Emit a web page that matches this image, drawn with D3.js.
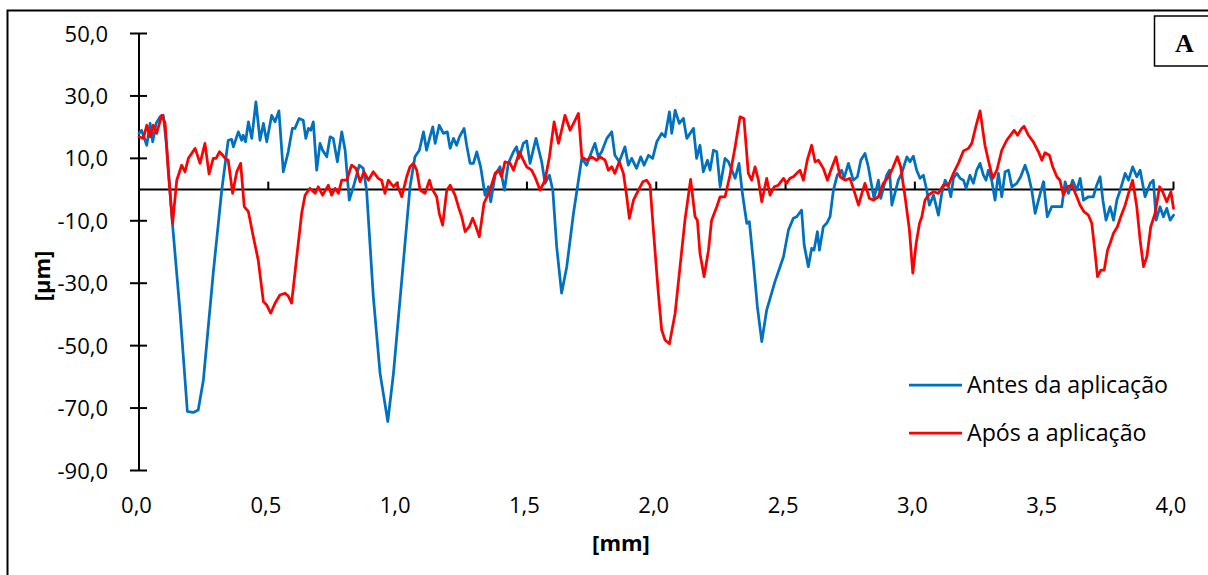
<!DOCTYPE html>
<html><head><meta charset="utf-8">
<script src="https://cdn.jsdelivr.net/npm/d3@7"></script>
<style>
html,body{margin:0;padding:0;background:#fff;}
svg{display:block;}
</style></head>
<body><svg id="chart" width="1208" height="575"></svg>
<script>
// ---- data (x in mm, y in µm) ----
const antesX = [0.000,0.010,0.030,0.043,0.053,0.066,0.081,0.094,0.107,0.126,0.159,0.187,0.210,0.229,0.249,0.287,0.320,0.345,0.358,0.365,0.384,0.397,0.403,0.412,0.423,0.436,0.452,0.468,0.481,0.494,0.513,0.526,0.541,0.558,0.577,0.593,0.603,0.619,0.635,0.645,0.655,0.664,0.674,0.687,0.700,0.710,0.726,0.739,0.751,0.767,0.784,0.797,0.813,0.829,0.852,
0.867,0.880,0.906,0.932,0.962,0.984,1.016,1.048,1.067,1.084,1.100,1.112,1.125,1.136,1.145,1.161,1.177,1.192,1.203,1.216,1.228,1.239,1.257,1.267,1.280,1.293,1.306,1.321,1.338,1.351,1.360,1.377,1.396,1.413,1.428,1.448,1.460,1.469,1.486,1.499,1.512,1.535,1.557,1.570,1.587,1.600,1.615,1.634,1.654,1.680,1.712,1.731,1.750,1.763,1.776,1.789,1.809,1.828,1.840,1.857,
1.879,1.892,1.905,1.924,1.940,1.953,1.970,1.986,2.002,2.021,2.034,2.051,2.060,2.073,2.089,2.105,2.118,2.131,2.144,2.156,2.169,2.182,2.198,2.208,2.221,2.234,2.247,2.266,2.279,2.305,2.320,2.333,2.350,2.360,2.376,2.391,2.408,2.427,2.459,2.492,2.511,2.530,2.543,2.562,2.572,2.588,2.601,2.610,2.623,2.631,2.646,2.659,2.672,2.685,2.700,2.717,2.726,2.743,2.762,2.778,2.791,2.807,2.820,2.829,2.842,2.859,2.868,2.891,2.902,2.911,2.936,
2.949,2.969,2.981,2.994,3.007,3.020,3.033,3.046,3.056,3.072,3.091,3.104,3.117,3.130,3.139,3.149,3.162,3.175,3.188,3.198,3.213,3.226,3.239,3.252,3.265,3.275,3.284,3.297,3.310,3.323,3.336,3.349,3.362,3.375,3.394,3.409,3.426,3.439,3.452,3.465,3.478,3.497,3.512,3.529,3.549,3.568,3.581,3.594,3.610,3.626,3.639,3.652,3.671,3.690,3.703,3.716,3.727,3.739,3.755,3.768,3.781,3.794,3.813,3.826,3.842,3.858,3.871,3.890,3.910,3.922,3.933,3.948,3.961,3.974,3.987,4.000];
const antesY = [18.0,19.0,14.2,21.2,15.3,21.2,23.3,23.8,13.7,-7.6,-39.6,-71.1,-71.4,-70.6,-61.0,-26.8,-0.2,15.8,16.1,13.7,18.5,15.8,17.4,15.3,21.7,16.4,28.1,15.8,21.2,15.3,23.8,21.7,25.2,5.7,12.1,19.6,19.6,22.8,22.2,16.4,19.6,19.0,21.7,6.2,14.8,12.6,10.5,16.9,16.4,8.9,18.5,12.6,-3.4,0.9,7.8,
6.8,-0.2,-34.3,-58.8,-74.3,-58.8,-29.0,0.9,10.5,12.6,18.5,12.6,16.9,20.1,14.8,20.6,18.0,18.5,13.2,16.4,14.2,16.9,19.6,14.2,8.4,8.4,12.1,7.3,-1.8,0.9,-3.9,4.6,7.3,-0.2,8.4,12.1,13.7,10.0,14.8,15.6,8.4,16.4,8.9,2.0,4.6,-0.2,-18.3,-33.2,-24.7,-7.6,10.0,7.8,12.1,14.8,10.5,12.1,16.4,18.5,11.0,8.9,
13.7,7.8,10.0,6.8,10.5,7.8,11.0,10.0,15.3,18.0,16.9,24.9,18.0,25.4,21.2,22.8,16.4,18.0,19.6,10.0,14.2,5.7,9.4,6.2,12.6,12.1,0.9,10.0,8.9,3.6,8.4,-1.2,-10.8,-10.3,-23.6,-37.5,-48.7,-38.6,-29.5,-21.5,-13.0,-9.2,-8.7,-6.6,-17.8,-24.7,-18.8,-19.4,-13.5,-19.4,-11.9,-10.8,-8.7,-0.2,4.6,6.2,3.6,8.4,3.0,4.1,9.4,11.6,7.3,3.0,-2.8,3.0,-2.8,4.6,6.2,-5.0,3.0,
5.2,10.5,8.9,10.7,6.2,3.6,4.6,-0.2,-5.0,-1.8,-8.2,-1.2,3.0,0.9,-2.3,3.6,5.2,3.6,3.0,0.4,4.6,2.0,6.2,8.4,4.6,3.0,6.2,3.0,-3.4,5.2,-2.3,5.7,6.2,0.9,2.0,4.1,7.8,4.6,-0.2,-7.6,-3.4,2.5,-8.7,-5.5,-5.5,-5.5,2.5,-1.2,3.0,-0.2,3.6,-3.4,-2.3,-2.3,1.4,4.1,-3.4,-9.8,-5.5,-9.8,-3.4,-0.2,5.2,3.0,7.3,4.1,6.2,-2.3,2.0,3.0,-9.8,-5.5,-8.7,-6.0,-9.8,-8.2];

const aposX = [0.000,0.017,0.030,0.043,0.055,0.068,0.088,0.101,0.113,0.130,0.146,0.165,0.178,0.191,0.217,0.236,0.255,0.271,0.287,0.298,0.311,0.324,0.333,0.345,0.362,0.378,0.393,0.407,0.423,0.442,0.461,0.481,0.494,0.509,0.526,0.545,0.565,0.577,0.590,0.610,0.629,0.642,0.661,0.681,0.693,0.710,0.732,0.745,0.758,0.771,0.784,0.803,0.822,0.839,0.855,0.870,
0.887,0.906,0.925,0.938,0.951,0.964,0.984,0.996,1.016,1.035,1.048,1.061,1.074,1.087,1.106,1.123,1.132,1.151,1.161,1.174,1.190,1.203,1.222,1.235,1.248,1.261,1.277,1.290,1.303,1.316,1.334,1.357,1.377,1.390,1.402,1.415,1.435,1.448,1.471,1.486,1.499,1.518,1.531,1.551,1.570,1.587,1.605,1.622,1.634,1.647,1.667,1.686,1.699,1.712,1.731,1.750,1.770,1.783,1.802,1.815,1.828,1.840,1.857,1.873,1.886,1.896,1.912,1.931,
1.948,1.963,1.976,1.989,2.008,2.021,2.034,2.051,2.073,2.092,2.111,2.133,2.150,2.159,2.169,2.185,2.202,2.214,2.234,2.247,2.266,2.285,2.305,2.324,2.339,2.356,2.369,2.382,2.395,2.408,2.427,2.440,2.456,2.472,2.492,2.504,2.517,2.530,2.543,2.556,2.569,2.584,2.601,2.614,2.627,2.646,2.662,2.675,2.695,2.711,2.730,2.749,2.762,2.782,2.795,2.807,2.824,2.840,2.859,2.878,2.898,2.914,2.932,
2.945,2.962,2.979,2.992,3.005,3.018,3.027,3.039,3.052,3.072,3.091,3.110,3.130,3.149,3.168,3.188,3.207,3.220,3.237,3.252,3.271,3.284,3.301,3.317,3.336,3.355,3.375,3.384,3.397,3.413,3.422,3.439,3.458,3.478,3.491,3.503,3.520,3.533,3.549,3.561,3.574,3.590,3.607,3.626,3.639,3.654,3.671,3.684,3.697,3.706,3.719,3.732,3.745,3.755,3.768,3.783,3.796,3.813,3.826,3.842,3.858,3.871,3.884,3.897,3.912,3.929,3.946,3.958,3.974,3.990,4.000];
const aposY = [16.9,16.4,20.6,16.9,20.6,18.0,23.8,21.2,6.2,-10.8,3.0,7.8,5.7,10.0,13.2,8.4,14.8,5.0,10.0,10.0,12.1,11.0,10.0,9.4,-1.2,5.7,8.4,-5.5,-7.1,-15.1,-22.6,-35.9,-37.0,-39.6,-36.4,-33.8,-33.2,-34.1,-36.4,-21.5,-7.6,-1.8,0.4,-1.2,0.9,-1.8,1.4,-1.8,0.4,-1.2,3.0,3.0,7.8,6.8,2.5,5.7,
3.0,5.7,3.6,3.0,-1.2,3.0,0.9,2.0,-2.3,4.1,7.3,8.4,6.2,-0.2,-1.2,3.0,0.4,-2.3,-7.6,-11.4,-0.2,1.4,-1.8,-5.5,-8.7,-13.5,-11.9,-9.2,-11.9,-15.1,-4.4,-0.2,5.2,6.2,4.1,8.9,8.4,6.2,12.1,9.4,7.3,6.2,4.1,-0.2,3.0,10.5,21.7,14.8,19.0,23.8,19.0,22.2,24.4,10.5,9.4,10.5,9.4,10.5,9.4,6.2,7.3,5.2,8.9,5.2,-2.3,-9.2,-3.4,-0.2,
2.5,3.0,1.4,-13.0,-33.2,-45.0,-48.2,-49.4,-39.6,-24.7,-9.8,3.3,-8.7,-9.8,-20.4,-27.9,-19.4,-9.8,-5.5,-2.3,-2.3,4.6,13.7,23.3,22.8,5.2,3.0,7.3,3.0,-3.9,3.6,-1.8,0.9,1.4,3.6,2.0,3.6,4.1,5.2,6.2,3.0,9.4,14.2,8.9,9.4,6.8,3.0,6.2,10.5,4.1,3.0,3.6,0.4,-5.0,-1.2,2.0,-2.8,-3.4,-2.3,2.0,4.1,6.8,10.5,
7.3,-2.3,-13.0,-26.8,-17.2,-10.8,-8.7,-3.4,-1.8,-0.7,-1.2,1.4,1.4,5.2,8.4,12.4,13.2,14.8,20.6,25.2,14.2,9.4,3.6,6.2,12.6,15.8,18.0,19.0,17.4,19.6,20.3,17.4,15.3,12.1,9.4,11.8,11.0,7.3,4.1,3.0,-1.8,0.9,1.4,-2.3,-5.0,-7.1,-8.2,-10.8,-20.4,-27.9,-25.8,-25.8,-19.4,-17.2,-14.0,-11.9,-8.7,-5.0,-1.2,3.0,-5.5,-16.2,-24.7,-21.5,-11.9,-7.6,0.9,-0.7,-3.9,-0.7,-6.0];

const xTicks = [0,0.5,1,1.5,2,2.5,3,3.5,4];
const yTicks = [50,30,10,-10,-30,-50,-70,-90];
const seriesNames = ["Antes da aplicação","Após a aplicação"];
const seriesColors = ["#0070C0","#FF0000"];

// ---- layout ----
const FONT = "'Open Sans', sans-serif";
const svg = d3.select("#chart");
const x = d3.scaleLinear().domain([0,4]).range([139,1173.5]);
const y = d3.scaleLinear().domain([-90,50]).range([470.5,33.5]);
const fmt = v => d3.format(".1f")(v).replace(".",",").replace("\u2212","-");

// outer frame (left & top)
svg.append("path").attr("d","M7.5,575 L7.5,10.5 L1208,10.5")
  .attr("fill","none").attr("stroke","#000").attr("stroke-width",2);

// y axis
const yAxis = svg.append("g").attr("transform",`translate(${x(0)},0)`);
yAxis.append("line").attr("y1",y(50)).attr("y2",y(-90)).attr("stroke","#000").attr("stroke-width",2);
yAxis.selectAll("line.t").data(yTicks).join("line").attr("class","t")
  .attr("x1",-9).attr("x2",8).attr("y1",d=>y(d)).attr("y2",d=>y(d))
  .attr("stroke","#000").attr("stroke-width",2);
yAxis.selectAll("text").data(yTicks).join("text")
  .attr("x",-31).attr("y",d=>y(d)+8).attr("text-anchor","end")
  .attr("font-family",FONT).attr("font-size",22).attr("fill","#000").text(fmt);

// zero line / x axis
const xAxis = svg.append("g").attr("transform",`translate(0,${y(0)})`);
xAxis.append("line").attr("x1",x(0)).attr("x2",x(4)).attr("stroke","#000").attr("stroke-width",2);
xAxis.selectAll("line.t").data(xTicks).join("line").attr("class","t")
  .attr("x1",d=>x(d)).attr("x2",d=>x(d)).attr("y1",-8).attr("y2",0)
  .attr("stroke","#000").attr("stroke-width",2);
svg.append("g").selectAll("text").data(xTicks).join("text")
  .attr("x",d=>x(d)-2.5).attr("y",513).attr("text-anchor","middle")
  .attr("font-family",FONT).attr("font-size",22).attr("fill","#000").text(fmt);

// axis titles
svg.append("text").attr("x",621).attr("y",551).attr("text-anchor","middle")
  .attr("font-family",FONT).attr("font-size",22).attr("font-weight","bold").text("[mm]");
svg.append("text").attr("transform","translate(50,276) rotate(-90)").attr("text-anchor","middle")
  .attr("font-family",FONT).attr("font-size",22).attr("font-weight","bold").text("[µm]");

// series
const line = d3.line().x(d=>x(d[0])).y(d=>y(d[1]));
const series = [d3.zip(antesX,antesY), d3.zip(aposX,aposY)];
series.forEach((s,i)=>{
  svg.append("path").datum(s).attr("d",line).attr("fill","none")
    .attr("stroke",seriesColors[i]).attr("stroke-width",2.75)
    .attr("stroke-linejoin","round").attr("stroke-linecap","round");
});

// legend
const lg = svg.append("g");
seriesNames.forEach((n,i)=>{
  const ly = 385 + i*48;
  lg.append("line").attr("x1",909).attr("x2",962).attr("y1",ly).attr("y2",ly)
    .attr("stroke",seriesColors[i]).attr("stroke-width",2.75);
  lg.append("text").attr("x",967).attr("y",ly+8).attr("font-family",FONT)
    .attr("font-size",23.2).attr("fill","#000").text(n);
});

// "A" box
svg.append("rect").attr("x",1154.5).attr("y",16).attr("width",60).attr("height",50)
  .attr("fill","#fff").attr("stroke","#000").attr("stroke-width",1.5);
svg.append("text").attr("x",1184.5).attr("y",52).attr("text-anchor","middle")
  .attr("font-family","'Liberation Serif','Times New Roman',serif").attr("font-weight","bold")
  .attr("font-size",26).text("A");
</script></body></html>
